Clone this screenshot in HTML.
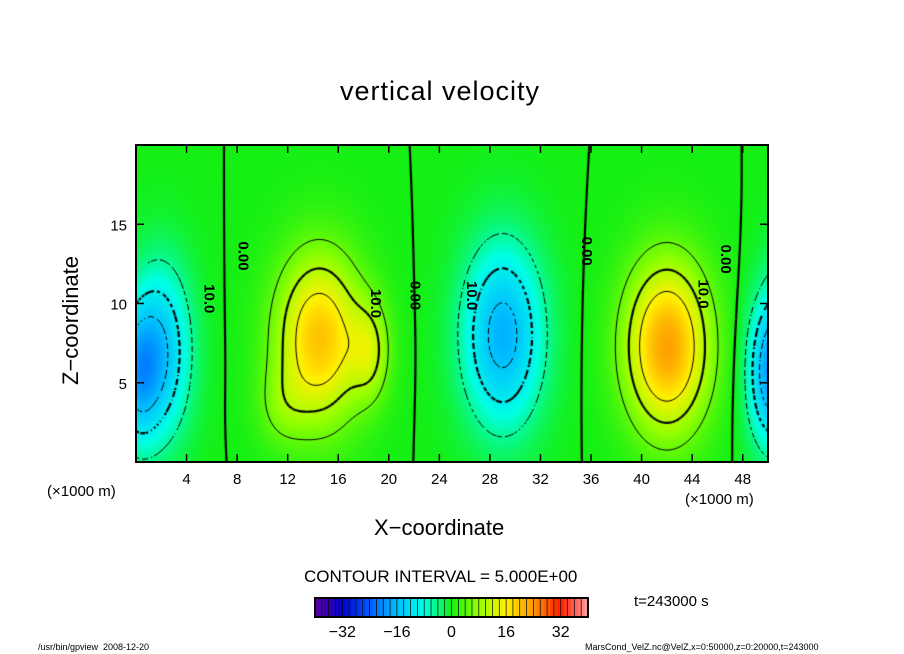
<!DOCTYPE html>
<html><head><meta charset="utf-8"><style>
body{margin:0;background:#fff;width:904px;height:654px;overflow:hidden;font-family:"Liberation Sans",sans-serif}
.t{position:absolute;color:#000;white-space:nowrap}
</style></head><body>
<div style="position:relative;width:904px;height:654px">
<div class="t" style="left:340px;top:76px;font-size:27px;letter-spacing:1px">vertical velocity</div>
<canvas id="cv" width="632" height="317" style="position:absolute;left:136px;top:145px"></canvas>
<svg id="ax" width="904" height="654" style="position:absolute;left:0;top:0"></svg>
<div class="t" style="left:374px;top:515px;font-size:22px">X−coordinate</div>
<div class="t" style="left:58px;top:385px;font-size:22px;transform:rotate(-90deg);transform-origin:0 0">Z−coordinate</div>
<div class="t" style="left:47px;top:483px;font-size:15px">(×1000 m)</div>
<div class="t" style="left:685px;top:491px;font-size:15px">(×1000 m)</div>
<div class="t" style="left:304px;top:567px;font-size:17px">CONTOUR INTERVAL = 5.000E+00</div>
<div class="t" style="left:634px;top:593px;font-size:15px">t=243000 s</div>
<div class="t" style="left:38px;top:642px;font-size:9px">/usr/bin/gpview&nbsp;&nbsp;2008-12-20</div>
<div class="t" style="left:585px;top:642px;font-size:9px">MarsCond_VelZ.nc@VelZ,x=0:50000,z=0:20000,t=243000</div>
</div>
<script>
const blobX=[2,14.5,18.5,29,42,50,11.5];
const blobZ=[7,7.8,7,8,7.3,5.5,3.5];
const blobAmp=[-14,20,9,-17,23,-13,4];
const blobSx=[2.4,3.4,1.5,3.2,3.3,1.8,2];
const blobSz=[5.5,5.3,3,5.8,5.3,4.5,2.5];
const xTicks=[4,8,12,16,20,24,28,32,36,40,44,48];
const yTicks=[5,10,15];
const cbTicks=[-32,-16,0,16,32];
const levels=[-15,-10,-5,0,5,10,15];
const W=632,H=317,X0=136,Y0=145;
const sx=x=>x/50*W, sz=z=>H-z/20*H;
function field(x,z){let v=0;for(let i=0;i<blobX.length;i++){for(const p of [-50,0,50]){const dx=(x-blobX[i]-p)/blobSx[i],dz=(z-blobZ[i])/blobSz[i];v+=blobAmp[i]*Math.exp(-(dx*dx+dz*dz));}}return v;}
const stops=[[-40,[96,0,160]],[-32,[0,0,200]],[-24,[0,90,255]],[-16,[0,190,255]],[-8,[0,255,230]],[0,[20,240,20]],[8,[150,255,0]],[16,[255,240,0]],[24,[255,150,0]],[32,[255,30,0]],[40,[255,160,160]]];
function col(v){v=Math.max(-40,Math.min(40,v));for(let i=0;i<stops.length-1;i++){if(v<=stops[i+1][0]){const t=(v-stops[i][0])/(stops[i+1][0]-stops[i][0]);return stops[i][1].map((c,k)=>c+(stops[i+1][1][k]-c)*t);}}return stops[stops.length-1][1];}
const cv=document.getElementById('cv'),ctx=cv.getContext('2d');
const img=ctx.createImageData(W,H);
for(let py=0;py<H;py++)for(let px=0;px<W;px++){const c=col(field(px/W*50,(H-py)/H*20));const o=(py*W+px)*4;img.data[o]=c[0];img.data[o+1]=c[1];img.data[o+2]=c[2];img.data[o+3]=255;}
ctx.putImageData(img,0,0);
const st=3,nx=Math.ceil(W/st)+1,ny=Math.ceil(H/st)+1,g=[];
for(let j=0;j<ny;j++){g[j]=[];for(let i=0;i<nx;i++)g[j][i]=field(i*st/W*50,(H-j*st)/H*20);}
for(const L of levels){
 ctx.lineWidth=(L===0||L===10||L===-10)?2.2:1;ctx.strokeStyle='#000';
 for(let j=0;j<ny-1;j++)for(let i=0;i<nx-1;i++){
  if(L<0&&((i+j)%3===0))continue;
  const a=g[j][i],b=g[j][i+1],c=g[j+1][i+1],d=g[j+1][i];
  const pts=[];const e=(v1,v2,x1,y1,x2,y2)=>{if((v1-L)*(v2-L)<0){const t=(L-v1)/(v2-v1);pts.push([x1+(x2-x1)*t,y1+(y2-y1)*t]);}};
  const x=i*st,y=j*st;
  e(a,b,x,y,x+st,y);e(b,c,x+st,y,x+st,y+st);e(c,d,x+st,y+st,x,y+st);e(d,a,x,y+st,x,y);
  ctx.beginPath();for(let k=0;k+1<pts.length;k+=2){ctx.moveTo(...pts[k]);ctx.lineTo(...pts[k+1]);}ctx.stroke();
 }}
const NS='http://www.w3.org/2000/svg',ax=document.getElementById('ax');
function el(t,a,txt){const e=document.createElementNS(NS,t);for(const k in a)e.setAttribute(k,a[k]);if(txt!==undefined)e.textContent=txt;ax.appendChild(e);return e;}
const fr=el('rect',{x:X0,y:Y0,width:W,height:H,fill:'none',stroke:'#000','stroke-width':2});


for(const t of xTicks){const x=X0+sx(t);
 el('line',{x1:x,y1:Y0+H,x2:x,y2:Y0+H-8,stroke:'#000','stroke-width':1.5});
 el('line',{x1:x,y1:Y0,x2:x,y2:Y0+8,stroke:'#000','stroke-width':1.5});
 const tx=el('text',{x:x,y:484,'font-size':15,'text-anchor':'middle','font-family':'Liberation Sans'},t);
 
 }
for(const t of yTicks){const y=Y0+sz(t);
 el('line',{x1:X0,y1:y,x2:X0+8,y2:y,stroke:'#000','stroke-width':1.5});
 el('line',{x1:X0+W,y1:y,x2:X0+W-8,y2:y,stroke:'#000','stroke-width':1.5});
 const tx=el('text',{x:127,y:y+6,'font-size':15,'text-anchor':'end','font-family':'Liberation Sans'},t);
 
 }
const labs=[[8.1,13,'0.00'],[21.7,10.5,'0.00'],[35.3,13.3,'0.00'],[46.3,12.8,'0.00'],[5.4,10.3,'10.0'],[18.6,10,'10.0'],[26.2,10.5,'10.0'],[44.5,10.6,'10.0']];
for(const l of labs){const x=X0+sx(l[0]),y=Y0+sz(l[1]);
 const tx=el('text',{x:x,y:y,'font-size':15,'text-anchor':'middle','font-family':'Liberation Sans','font-weight':'bold',transform:`rotate(90 ${x} ${y})`},l[2]);
 
 }
const cb0=315,cb1=588,cby=598,cbh=19;
for(let k=0;k<80;k++){const v=-40+k;const c=col(v+0.5);const x=cb0+(cb1-cb0)*k/80;
 el('rect',{x:x,y:cby,width:(cb1-cb0)/80+0.3,height:cbh,fill:`rgb(${c.map(Math.round).join(',')})`});
 if(k%2==0)el('line',{x1:x,y1:cby,x2:x,y2:cby+cbh,stroke:'#000','stroke-width':0.7});}
const cb=el('rect',{x:cb0,y:cby,width:cb1-cb0,height:cbh,fill:'none',stroke:'#000','stroke-width':2});


for(const t of cbTicks){const tx=el('text',{x:cb0+(cb1-cb0)*(t+40)/80,y:637,'font-size':16,'text-anchor':'middle','font-family':'Liberation Sans'},t<0?'−'+(-t):t);
 
 }
</script>
</body></html>
